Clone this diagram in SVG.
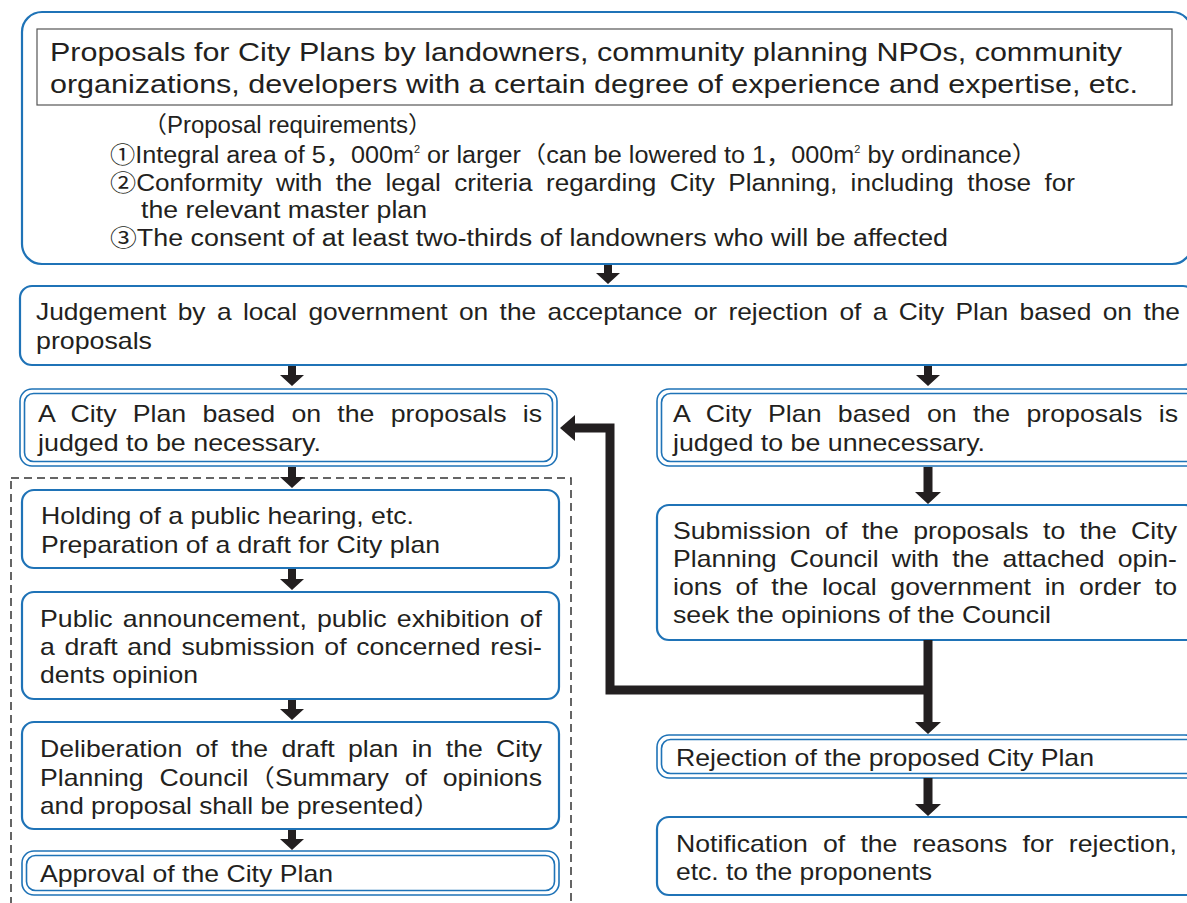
<svg xmlns="http://www.w3.org/2000/svg" width="1187" height="903" viewBox="0 0 1187 903">
<style>
.b{fill:#fff;stroke:#1f73b7;stroke-width:2.2}
.d{fill:none;stroke:#1f73b7;stroke-width:1.6}
.t{font-family:"Liberation Sans","Noto Sans CJK JP",sans-serif;font-size:24px;fill:#231f20}
.h{font-size:25.5px}
.r{font-size:23px}
.a{fill:#231f20}
.c{fill:none;stroke:#231f20;stroke-width:9;stroke-linejoin:miter}
</style>
<rect width="1187" height="903" fill="#fff"/>
<rect x="11" y="478" width="560" height="440" fill="none" stroke="#333" stroke-width="1.5" stroke-dasharray="8,5"/>

<g id="proposals">
<rect x="22" y="12" width="1170" height="252" rx="20" class="b" stroke-width="2.8"/>
<rect x="37" y="29" width="1135" height="76" fill="#fff" stroke="#555" stroke-width="1.2"/>
<text class="t h" x="50" y="61" textLength="1072" lengthAdjust="spacingAndGlyphs">Proposals for City Plans by landowners, community planning NPOs, community</text>
<text class="t h" x="50" y="93" textLength="1088" lengthAdjust="spacingAndGlyphs">organizations, developers with a certain degree of experience and expertise, etc.</text>
<text class="t r" x="143" y="133" textLength="289" lengthAdjust="spacingAndGlyphs">（Proposal requirements）</text>
<text class="t r" x="110" y="163" textLength="927" lengthAdjust="spacingAndGlyphs">①Integral area of 5，000m<tspan dy="-10" font-size="10">2</tspan><tspan dy="10"> or larger（can be lowered to 1，000m</tspan><tspan dy="-10" font-size="10">2</tspan><tspan dy="10"> by ordinance）</tspan></text>
<text class="t r" x="110" y="191" textLength="965" lengthAdjust="spacingAndGlyphs" word-spacing="5.4">②Conformity with the legal criteria regarding City Planning, including those for</text>
<text class="t r" x="141" y="218" textLength="286" lengthAdjust="spacingAndGlyphs">the relevant master plan</text>
<text class="t r" x="110" y="246" textLength="838" lengthAdjust="spacingAndGlyphs">③The consent of at least two-thirds of landowners who will be affected</text>
</g>

<g id="judgement">
<rect x="20" y="286" width="1175" height="79" rx="12" class="b"/>
<text class="t" x="36" y="320" textLength="1144" lengthAdjust="spacingAndGlyphs" word-spacing="3.7">Judgement by a local government on the acceptance or rejection of a City Plan based on the</text>
<text class="t" x="36" y="349" textLength="116" lengthAdjust="spacingAndGlyphs">proposals</text>
</g>

<g id="necessary">
<rect x="20" y="389" width="537" height="77" rx="12" class="d"/>
<rect x="24.5" y="393.5" width="528" height="68" rx="9" class="d"/>
<text class="t" x="38" y="422" textLength="504" lengthAdjust="spacingAndGlyphs" word-spacing="7.9">A City Plan based on the proposals is</text>
<text class="t" x="38" y="451" textLength="283" lengthAdjust="spacingAndGlyphs">judged to be necessary.</text>
</g>

<g id="unnecessary">
<rect x="657" y="389" width="540" height="77" rx="12" class="d"/>
<rect x="661.5" y="393.5" width="540" height="68" rx="9" class="d"/>
<text class="t" x="673" y="422" textLength="505" lengthAdjust="spacingAndGlyphs" word-spacing="8">A City Plan based on the proposals is</text>
<text class="t" x="673" y="451" textLength="312" lengthAdjust="spacingAndGlyphs">judged to be unnecessary.</text>
</g>

<g id="holding">
<rect x="22" y="490" width="537" height="78" rx="12" class="b"/>
<text class="t" x="41" y="524" textLength="373" lengthAdjust="spacingAndGlyphs">Holding of a public hearing, etc.</text>
<text class="t" x="41" y="553" textLength="399" lengthAdjust="spacingAndGlyphs">Preparation of a draft for City plan</text>
</g>

<g id="announcement">
<rect x="22" y="592" width="537" height="107" rx="12" class="b"/>
<text class="t" x="40" y="627" textLength="502" lengthAdjust="spacingAndGlyphs" word-spacing="2.45">Public announcement, public exhibition of</text>
<text class="t" x="40" y="655" textLength="502" lengthAdjust="spacingAndGlyphs" word-spacing="2">a draft and submission of concerned resi-</text>
<text class="t" x="40" y="683" textLength="158" lengthAdjust="spacingAndGlyphs">dents opinion</text>
</g>

<g id="deliberation">
<rect x="22" y="722" width="537" height="107" rx="12" class="b"/>
<text class="t" x="40" y="757" textLength="502" lengthAdjust="spacingAndGlyphs" word-spacing="5.3">Deliberation of the draft plan in the City</text>
<text class="t" x="40" y="786" textLength="502" lengthAdjust="spacingAndGlyphs" word-spacing="7.6">Planning Council（Summary of opinions</text>
<text class="t" x="40" y="814" textLength="400" lengthAdjust="spacingAndGlyphs">and proposal shall be presented）</text>
</g>

<g id="approval">
<rect x="22" y="851" width="537" height="44" rx="12" class="d"/>
<rect x="26.5" y="855.5" width="528" height="35" rx="9" class="d"/>
<text class="t" x="40" y="882" textLength="293" lengthAdjust="spacingAndGlyphs">Approval of the City Plan</text>
</g>

<g id="submission">
<rect x="657" y="505" width="540" height="135" rx="12" class="b"/>
<text class="t" x="673" y="539" textLength="504" lengthAdjust="spacingAndGlyphs" word-spacing="6.3">Submission of the proposals to the City</text>
<text class="t" x="673" y="567" textLength="504" lengthAdjust="spacingAndGlyphs" word-spacing="5.2">Planning Council with the attached opin-</text>
<text class="t" x="673" y="595" textLength="504" lengthAdjust="spacingAndGlyphs" word-spacing="5.6">ions of the local government in order to</text>
<text class="t" x="673" y="623" textLength="378" lengthAdjust="spacingAndGlyphs">seek the opinions of the Council</text>
</g>

<g id="rejection">
<rect x="657" y="735" width="540" height="43" rx="12" class="d"/>
<rect x="661.5" y="739.5" width="540" height="34" rx="9" class="d"/>
<text class="t" x="676" y="766" textLength="418" lengthAdjust="spacingAndGlyphs">Rejection of the proposed City Plan</text>
</g>

<g id="notification">
<rect x="657" y="817" width="540" height="78" rx="12" class="b"/>
<text class="t" x="676" y="852" textLength="501" lengthAdjust="spacingAndGlyphs" word-spacing="7">Notification of the reasons for rejection,</text>
<text class="t" x="676" y="880" textLength="256" lengthAdjust="spacingAndGlyphs">etc. to the proponents</text>
</g>

<g id="connectors">
<path class="a" d="M604,265 H612 V273 H620 L608,284 L596,273 H604 Z"/>
<path class="a" d="M288,366 H296 V375 H304 L292,386 L280,375 H288 Z"/>
<path class="a" d="M924,366 H932 V375 H940 L928,386 L916,375 H924 Z"/>
<path class="a" d="M288,467 H296 V477 H304 L292,488 L280,477 H288 Z"/>
<path class="a" d="M288,569 H296 V579 H304 L292,590 L280,579 H288 Z"/>
<path class="a" d="M288,700 H296 V709 H304 L292,720 L280,709 H288 Z"/>
<path class="a" d="M288,830 H296 V839 H304 L292,850 L280,839 H288 Z"/>
<path class="a" d="M923.5,467 H932.5 V492 H941 L928,504 L915,492 H923.5 Z"/>
<path class="a" d="M923.5,640 H932.5 V722 H941 L928,734 L915,722 H923.5 Z"/>
<path class="c" d="M928,690 H610 V428 H572"/>
<path class="a" d="M575,415 V441 L560,428 Z"/>
<path class="a" d="M923.5,778 H932.5 V804 H941 L928,816 L915,804 H923.5 Z"/>
</g>
</svg>
